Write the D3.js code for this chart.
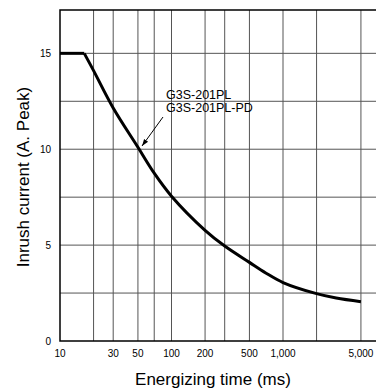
<!DOCTYPE html>
<html>
<head>
<meta charset="utf-8">
<script src="https://cdn.jsdelivr.net/npm/d3@7"></script>
<style>
  body { margin: 0; background: #fff; }
  svg { display: block; }
</style>
</head>
<body>
<div id="canvas"></div>
<script>
"use strict"

/* data */
let timeMs = [10, 16.5, 20, 30, 50, 70, 100, 200, 300, 500, 700, 1000, 2000, 3000, 5000]
let inrush = [15, 15, 14.1, 12.15, 10.1, 8.75, 7.55, 5.77, 4.95, 4.1, 3.55, 3.05, 2.47, 2.24, 2.05]

/* grid and tick values */
let xGridValues = [20, 30, 50, 70, 100, 200, 300, 500, 1000, 2000, 5000]
let xTickValues = [10, 30, 50, 100, 200, 500, 1000, 5000]
let yGridValues = [2.5, 5, 7.5, 10, 12.5, 15]
let yTickValues = [0, 5, 10, 15]
let seriesLabels = ["G3S-201PL", "G3S-201PL-PD"]

let svgWidth = 376
let svgHeight = 390

let svg = d3.select("#canvas")
    .append("svg")
    .attr("width", svgWidth)
    .attr("height", svgHeight)

/* scales: 10 ms sits on the left axis, plot runs past the right edge */
let xScale = d3.scaleLog()
    .domain([10, 10000])
    .range([60, 60 + 3 * 111.5])
let yScale = d3.scaleLinear()
    .domain([0, 17.26])
    .range([341, 10])

let tickFont = "'Liberation Sans Narrow', 'Arial Narrow', 'Liberation Sans', sans-serif"
let labelFont = "'Liberation Sans', Arial, sans-serif"

/* vertical grid */
svg.selectAll("line.xgrid")
    .data(xGridValues)
    .join("line")
    .classed("xgrid", true)
    .attr("x1", d => xScale(d))
    .attr("x2", d => xScale(d))
    .attr("y1", yScale.range()[1])
    .attr("y2", yScale(0))
    .attr("stroke", "#555")
    .attr("stroke-width", 1)

/* horizontal grid */
svg.selectAll("line.ygrid")
    .data(yGridValues)
    .join("line")
    .classed("ygrid", true)
    .attr("x1", xScale(10))
    .attr("x2", svgWidth)
    .attr("y1", d => yScale(d))
    .attr("y2", d => yScale(d))
    .attr("stroke", "#555")
    .attr("stroke-width", 1)

/* frame: top, left and bottom */
svg.append("path")
    .attr("d", `M${svgWidth},${yScale.range()[1]}H${xScale(10)}V${yScale(0)}H${svgWidth}`)
    .attr("fill", "none")
    .attr("stroke", "black")
    .attr("stroke-width", 1.5)

/* y tick labels */
svg.selectAll("text.ytick")
    .data(yTickValues)
    .join("text")
    .classed("ytick", true)
    .attr("x", 51)
    .attr("y", d => yScale(d) + 3.5)
    .attr("text-anchor", "end")
    .style("font-family", tickFont)
    .style("font-size", "10px")
    .text(d => d)

/* x tick labels */
svg.selectAll("text.xtick")
    .data(xTickValues)
    .join("text")
    .classed("xtick", true)
    .attr("x", d => xScale(d))
    .attr("y", 357)
    .attr("text-anchor", "middle")
    .style("font-family", tickFont)
    .style("font-size", "10px")
    .text(d => d3.format(",")(d))

/* curve: flat part then the decay */
let line = d3.line()
    .x(d => xScale(d[0]))
    .y(d => yScale(d[1]))

let points = timeMs.map((t, i) => [t, inrush[i]])

svg.append("path")
    .attr("d", line(points.slice(0, 2)))
    .attr("fill", "none")
    .attr("stroke", "black")
    .attr("stroke-width", 3)

svg.append("path")
    .attr("d", line.curve(d3.curveCatmullRom.alpha(0.5))(points.slice(1)))
    .attr("fill", "none")
    .attr("stroke", "black")
    .attr("stroke-width", 3)
    .attr("stroke-linejoin", "round")

/* series label with arrow */
svg.append("defs").append("marker")
    .attr("id", "arrow")
    .attr("viewBox", "0 0 10 10")
    .attr("refX", 10)
    .attr("refY", 5)
    .attr("markerWidth", 7)
    .attr("markerHeight", 7)
    .attr("orient", "auto")
    .append("path")
    .attr("d", "M0,1.5L10,5L0,8.5Z")
    .attr("fill", "black")

svg.append("line")
    .attr("x1", 163)
    .attr("y1", 117)
    .attr("x2", 142)
    .attr("y2", 146)
    .attr("stroke", "black")
    .attr("stroke-width", 1)
    .attr("marker-end", "url(#arrow)")

svg.selectAll("text.series")
    .data(seriesLabels)
    .join("text")
    .classed("series", true)
    .attr("x", 166)
    .attr("y", (d, i) => 99 + i * 13)
    .style("font-family", labelFont)
    .style("font-size", "12.5px")
    .text(d => d)

/* axis titles */
svg.append("text")
    .attr("x", 213)
    .attr("y", 385)
    .attr("text-anchor", "middle")
    .style("font-family", labelFont)
    .style("font-size", "17px")
    .text("Energizing time (ms)")

svg.append("text")
    .attr("transform", "translate(29,177) rotate(-90)")
    .attr("text-anchor", "middle")
    .style("font-family", labelFont)
    .style("font-size", "17px")
    .text("Inrush current (A. Peak)")
</script>
</body>
</html>
